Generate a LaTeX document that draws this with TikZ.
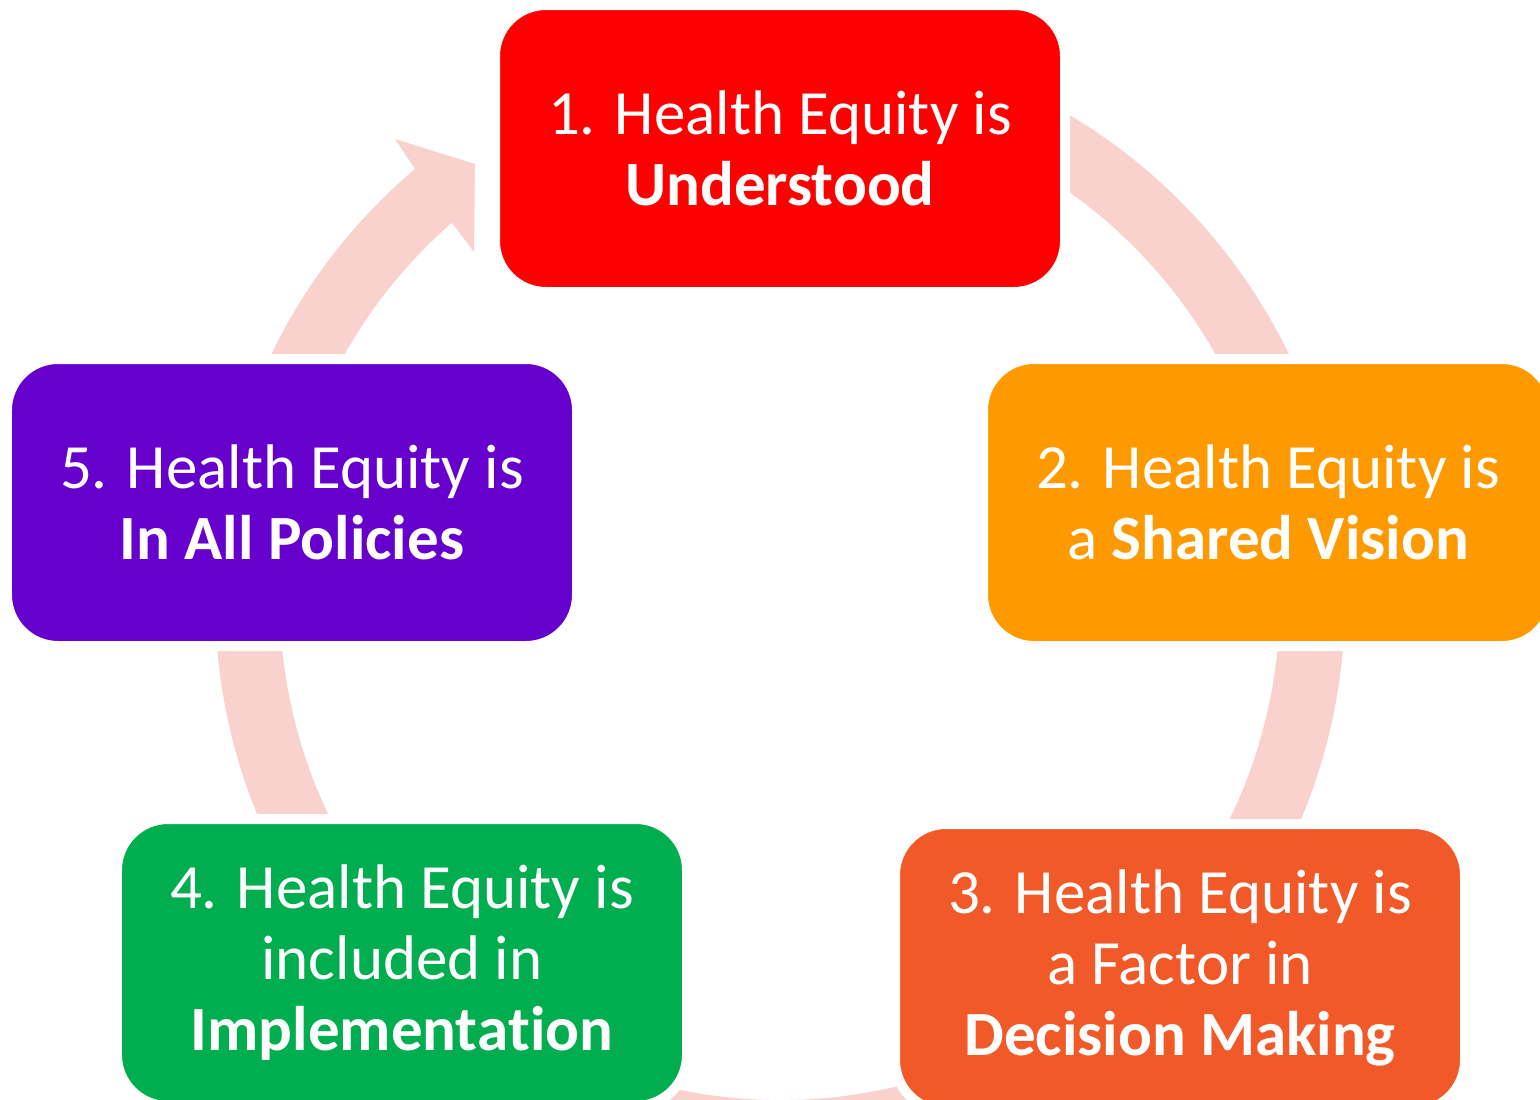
\documentclass[tikz,border=0pt]{standalone}
\usepackage{fontspec}
\setmainfont[Ligatures=NoCommon]{Carlito}
\definecolor{stageone}{HTML}{FF0000}
\definecolor{stagetwo}{HTML}{FF9900}
\definecolor{stagethree}{HTML}{F15A28}
\definecolor{stagefour}{HTML}{00AD4F}
\definecolor{stagefive}{HTML}{6600CC}
\definecolor{ringpink}{HTML}{F9D1CD}
\begin{document}
\begin{tikzpicture}[x=1bp,y=-1bp,line join=bevel,
  stagebox/.style={draw=white,line width=10bp,rounded corners=51bp,
    minimum width=570bp,minimum height=287bp,inner sep=0pt,align=center,
    text=white,font=\fontsize{63bp}{71bp}\selectfont}]
\useasboundingbox (0,0) rectangle (1540,1099);
%% cycle ring with its arrow head
\fill [ringpink,shift={(780,600)}] (-365,-431) arc [start angle=229.74,end angle=-80,radius=565]
  -- (-80:500) arc [start angle=-80,end angle=228.99,radius=500]
  -- (-306,-348) -- (-305,-436) -- (-385,-461) -- cycle;
%% stages
\node (stage_1) at (780,148.5) [stagebox,fill=stageone] {1. Health Equity is\\\textbf{Understood}};
  \node (stage_2) at (1268,502.5) [stagebox,fill=stagetwo] {2. Health Equity is\\a \textbf{Shared Vision}};
  \node (stage_3) at (1180,967.5) [stagebox,fill=stagethree] {3. Health Equity is\\a Factor in\\\textbf{Decision Making}};
  \node (stage_4) at (402,962.5) [stagebox,fill=stagefour] {4. Health Equity is\\included in\\\textbf{Implementa\kern0pt tion}};
  \node (stage_5) at (292,502.5) [stagebox,fill=stagefive] {5. Health Equity is\\\textbf{In All Policies}};
%
\end{tikzpicture}
\end{document}
